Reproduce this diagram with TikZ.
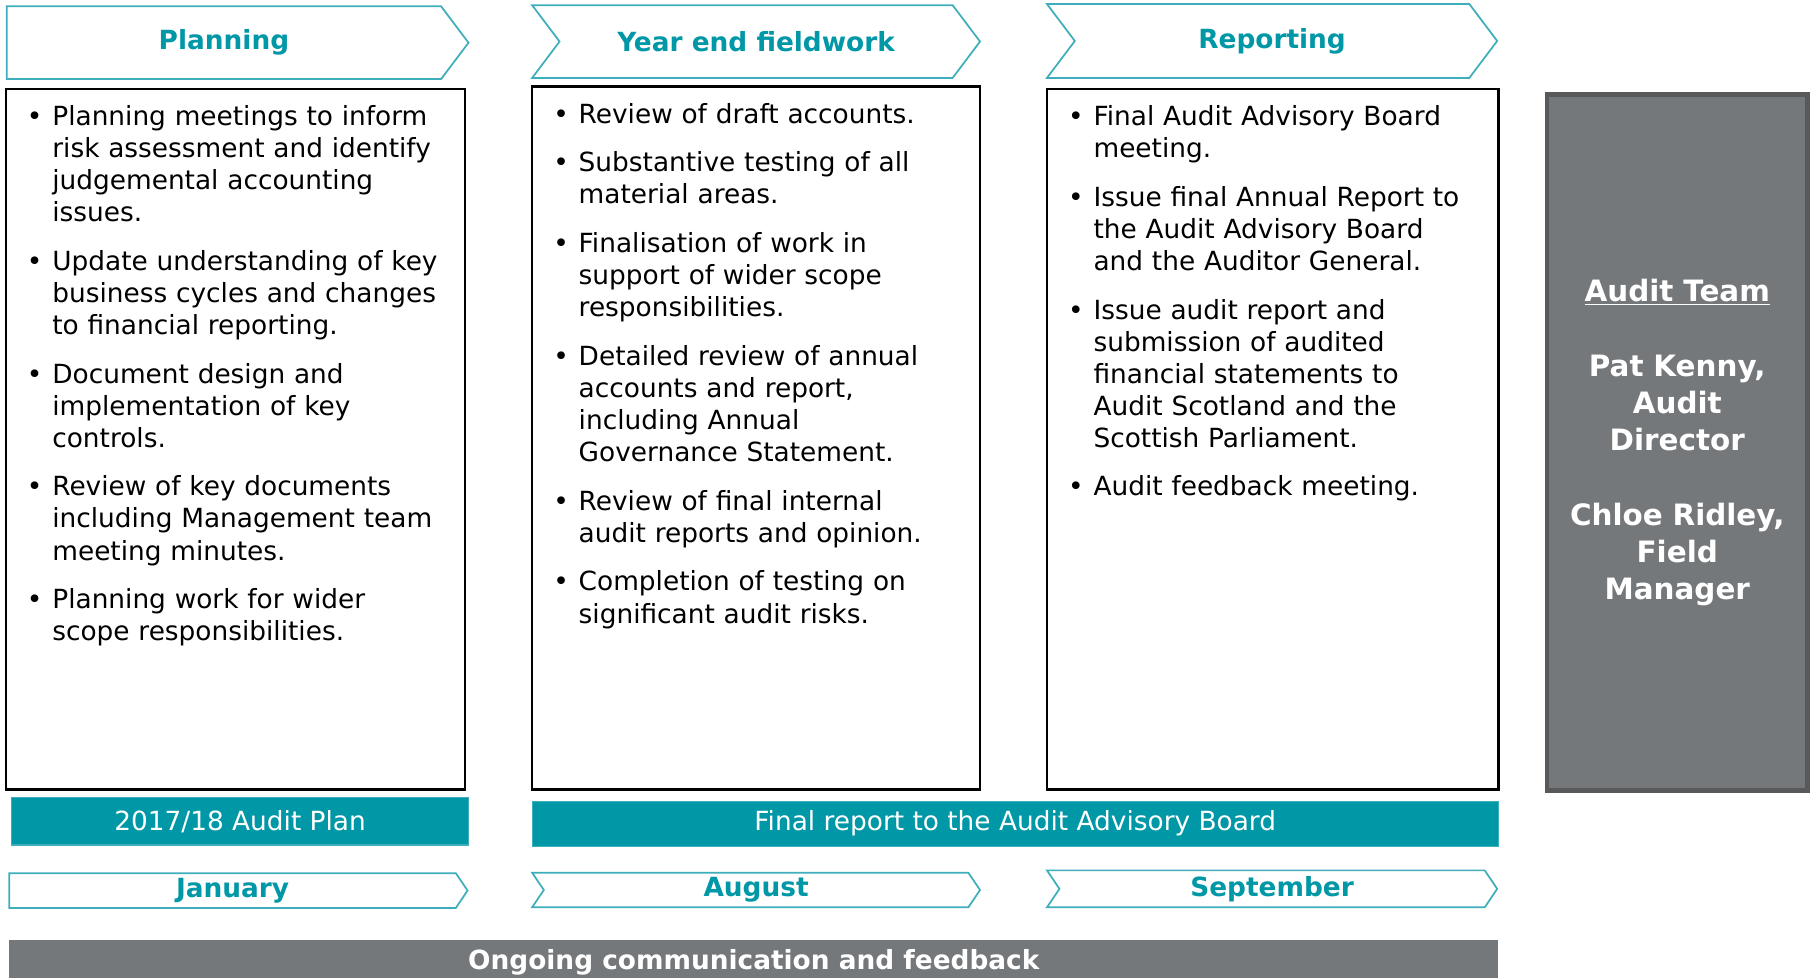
\documentclass[tikz,border=0pt]{standalone}
\usepackage{fontspec}
\setmainfont{DejaVu Sans}
\usetikzlibrary{shapes.symbols}

\newlength{\du}
\setlength{\du}{0.2mm}

\definecolor{auditteal}{RGB}{0,151,167}
\definecolor{chevronline}{RGB}{62,174,188}
\definecolor{teamgrey}{RGB}{117,120,123}
\definecolor{teamedge}{RGB}{88,89,91}

% one bullet point, hanging indent, lines broken by hand
\newcommand{\task}[1]{\hangindent=22\du\hangafter=1\noindent\makebox[22\du][l]{\textbullet}#1\par}

\tikzset{
  phase/.style={signal, signal to=east, signal from=nowhere, signal pointer angle=106,
    draw=chevronline, line width=0.3mm, fill=white, text=auditteal,
    font=\fontsize{13}{15.6}\selectfont\bfseries, inner sep=0pt},
  phasein/.style={phase, signal from=west},
  month/.style={phase, signal pointer angle=112},
  monthin/.style={month, signal from=west},
  taskbox/.style={draw=black, line width=0.4mm, fill=white, inner sep=0pt},
  tasklist/.style={anchor=north west, inner sep=0pt, text width=400\du, align=left,
    font=\fontsize{13}{15.8}\selectfont, execute at begin node=\setlength{\parskip}{8.2pt}},
  milestone/.style={draw=chevronline, line width=0.2mm, fill=auditteal, text=white,
    font=\fontsize{13}{15.6}\selectfont, inner sep=0pt},
  teambox/.style={draw=teamedge, line width=0.8mm, fill=teamgrey, text=white, inner sep=0pt,
    text width=220\du, align=center, font=\fontsize{14.5}{18.4}\selectfont\bfseries},
}

\begin{document}
\begin{tikzpicture}
\pgftransformyscale{-1.000000}
\useasboundingbox (0\du,0\du) rectangle (1568\du,847\du);
% phases
\node[phase, minimum width=400\du, minimum height=63\du] (planning) at (194\du,37\du) {Planning};
\node[phasein, minimum width=388\du, minimum height=63\du] (fieldwork) at (655\du,36\du) {Year end fieldwork};
\node[phasein, minimum width=390\du, minimum height=64\du] (reporting) at (1102\du,35.5\du) {Reporting};
% task boxes
\node[taskbox, minimum width=398\du, minimum height=607\du] (planbox) at (204\du,380.5\du) {};
\node[taskbox, minimum width=388\du, minimum height=609\du] (fieldbox) at (655\du,379.5\du) {};
\node[taskbox, minimum width=391\du, minimum height=607\du] (reportbox) at (1102.5\du,380.5\du) {};
\node[tasklist] (plantasks) at (23\du,91\du) {%
  \task{Planning meetings to inform\newline risk assessment and identify\newline judgemental accounting\newline issues.}
  \task{Update understanding of key\newline business cycles and changes\newline to financial reporting.}
  \task{Document design and\newline implementation of key\newline controls.}
  \task{Review of key documents\newline including Management team\newline meeting minutes.}
  \task{Planning work for wider\newline scope responsibilities.}};
\node[tasklist] (fieldtasks) at (479\du,89\du) {%
  \task{Review of draft accounts.}
  \task{Substantive testing of all\newline material areas.}
  \task{Finalisation of work in\newline support of wider scope\newline responsibilities.}
  \task{Detailed review of annual\newline accounts and report,\newline including Annual\newline Governance Statement.}
  \task{Review of final internal\newline audit reports and opinion.}
  \task{Completion of testing on\newline significant audit risks.}};
\node[tasklist] (reporttasks) at (925\du,91\du) {%
  \task{Final Audit Advisory Board\newline meeting.}
  \task{Issue final Annual Report to\newline the Audit Advisory Board\newline and the Auditor General.}
  \task{Issue audit report and\newline submission of audited\newline financial statements to\newline Audit Scotland and the\newline Scottish Parliament.}
  \task{Audit feedback meeting.}};
% milestones
\node[milestone, minimum width=396\du, minimum height=41\du] (auditplan) at (208\du,711.5\du) {2017/18 Audit Plan};
\node[milestone, minimum width=837\du, minimum height=39\du] (finalreport) at (879.5\du,713.5\du) {Final report to the Audit Advisory Board};
% months
\node[month, minimum width=397\du, minimum height=30\du] (january) at (201.5\du,771.5\du) {January};
\node[monthin, minimum width=388\du, minimum height=30\du] (august) at (655\du,771\du) {August};
\node[monthin, minimum width=390\du, minimum height=32\du] (september) at (1102\du,770\du) {September};
% team
\node[teambox, minimum width=226\du, minimum height=603\du] (team) at (1453\du,383.5\du)
  {\underline{Audit Team}\\[18.4pt] Pat Kenny,\\ Audit\\ Director\\[18.4pt] Chloe Ridley,\\ Field\\ Manager};
\node[fill=teamgrey, text=white, inner sep=0pt, minimum width=1290\du, minimum height=40\du,
  font=\fontsize{13}{15.6}\selectfont\bfseries] (ongoing) at (653\du,834\du) {Ongoing communication and feedback};
\end{tikzpicture}
\end{document}
